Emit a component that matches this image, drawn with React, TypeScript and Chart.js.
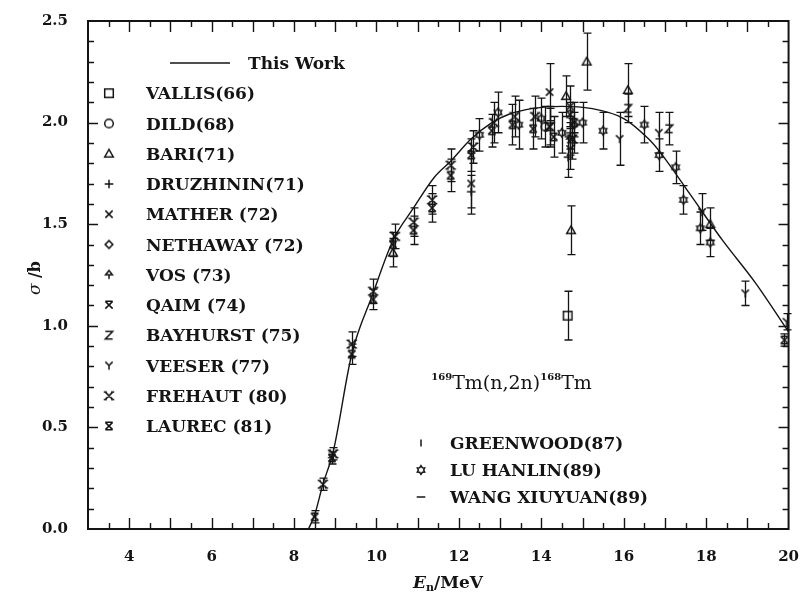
import React, { useEffect, useRef } from 'react';
import { Chart, registerables } from 'chart.js';

Chart.register(...registerables);

const INK = '#141414';
const SERIF = '"DejaVu Serif", "Liberation Serif", serif';

// ---- axis ticks ----
const xTickValues = [4, 6, 8, 10, 12, 14, 16, 18, 20];
const yTickValues = [0, 0.5, 1.0, 1.5, 2.0, 2.5];

// ---- evaluated curve (This Work) ----
const thisWorkE = [8.35, 8.5, 8.7, 8.95, 9.4, 9.9, 10.4, 10.9, 11.4, 11.8, 12.3, 12.8, 13.2, 13.8, 14.5, 15.2, 16.0, 16.6, 16.9, 17.6, 18.4, 19.2, 20.0];
const thisWorkS = [0.0, 0.07, 0.22, 0.38, 0.86, 1.15, 1.42, 1.58, 1.73, 1.81, 1.92, 2.0, 2.04, 2.07, 2.08, 2.07, 2.02, 1.92, 1.85, 1.65, 1.42, 1.21, 0.97];

// ---- measurements: energy (MeV), cross section (b), uncertainty (b) ----
const vallisE = [14.64];
const vallisS = [1.05];
const vallisErr = [0.12];

const dildE = [14.1];
const dildS = [1.98];
const dildErr = [0.1];

const bariE = [10.4, 14.6, 14.72, 15.1, 16.1, 18.1];
const bariS = [1.36, 2.13, 1.47, 2.3, 2.16, 1.5];
const bariErr = [0.07, 0.1, 0.12, 0.14, 0.13, 0.08];

const druzhininE = [12.3, 14.65];
const druzhininS = [1.66, 1.83];
const druzhininErr = [0.08, 0.1];

const matherE = [12.3, 14.2, 14.7];
const matherS = [1.7, 2.15, 2.08];
const matherErr = [0.15, 0.14, 0.1];

const nethawayE = [14.8];
const nethawayS = [1.99];
const nethawayErr = [0.06];

const vosE = [14.7];
const vosS = [1.92];
const vosErr = [0.08];

const qaimE = [14.7];
const qaimS = [2.04];
const qaimErr = [0.06];

const bayhurstE = [14.2, 16.1, 17.1];
const bayhurstS = [1.98, 2.07, 1.97];
const bayhurstErr = [0.09, 0.07, 0.08];

const veeserE = [14.7, 15.9, 16.85, 17.9, 18.95, 19.95];
const veeserS = [1.87, 1.92, 1.95, 1.56, 1.16, 1.02];
const veeserErr = [0.1, 0.13, 0.1, 0.09, 0.06, 0.04];

const frehautE = [8.7, 8.95, 9.4, 9.92, 10.45, 10.9, 11.35, 11.8, 12.35, 12.85, 13.35, 13.85, 14.2, 14.75];
const frehautS = [0.22, 0.37, 0.91, 1.17, 1.44, 1.51, 1.62, 1.79, 1.88, 2.0, 2.03, 2.03, 1.98, 1.92];
const frehautErr = [0.03, 0.03, 0.06, 0.06, 0.06, 0.07, 0.07, 0.08, 0.08, 0.1, 0.1, 0.1, 0.1, 0.1];

const laurecE = [8.5, 8.92, 9.4, 9.92, 10.4, 10.9, 11.35, 11.8, 12.3, 12.8, 13.3, 13.8, 14.3, 14.8, 19.9];
const laurecS = [0.06, 0.35, 0.86, 1.13, 1.4, 1.47, 1.58, 1.74, 1.84, 1.96, 1.99, 1.97, 1.93, 2.0, 0.93];
const laurecErr = [0.03, 0.03, 0.05, 0.05, 0.06, 0.07, 0.07, 0.08, 0.08, 0.08, 0.1, 0.1, 0.1, 0.1, 0.03];

const greenwoodE = [14.8];
const greenwoodS = [1.9];
const greenwoodErr = [0.05];

const luHanlinE = [12.5, 12.95, 13.45, 14.0, 14.5, 15.0, 15.5, 16.5, 16.86, 17.26, 17.45, 17.86, 18.1];
const luHanlinS = [1.94, 2.05, 1.99, 2.02, 1.95, 2.0, 1.96, 1.99, 1.84, 1.78, 1.62, 1.48, 1.41];
const luHanlinErr = [0.08, 0.1, 0.12, 0.1, 0.1, 0.1, 0.09, 0.09, 0.08, 0.08, 0.07, 0.08, 0.07];

const wangE = [14.7];
const wangS = [1.95];
const wangErr = [0.08];

type Series = { label: string; e: number[]; s: number[]; err: number[]; marker: string };

const upperSeries: Series[] = [
  { label: 'VALLIS(66)', e: vallisE, s: vallisS, err: vallisErr, marker: 'square' },
  { label: 'DILD(68)', e: dildE, s: dildS, err: dildErr, marker: 'circle' },
  { label: 'BARI(71)', e: bariE, s: bariS, err: bariErr, marker: 'triangle' },
  { label: 'DRUZHININ(71)', e: druzhininE, s: druzhininS, err: druzhininErr, marker: 'plus' },
  { label: 'MATHER (72)', e: matherE, s: matherS, err: matherErr, marker: 'cross' },
  { label: 'NETHAWAY (72)', e: nethawayE, s: nethawayS, err: nethawayErr, marker: 'diamond' },
  { label: 'VOS (73)', e: vosE, s: vosS, err: vosErr, marker: 'vos' },
  { label: 'QAIM (74)', e: qaimE, s: qaimS, err: qaimErr, marker: 'qaim' },
  { label: 'BAYHURST (75)', e: bayhurstE, s: bayhurstS, err: bayhurstErr, marker: 'z' },
  { label: 'VEESER (77)', e: veeserE, s: veeserS, err: veeserErr, marker: 'y' },
  { label: 'FREHAUT (80)', e: frehautE, s: frehautS, err: frehautErr, marker: 'frehaut' },
  { label: 'LAUREC (81)', e: laurecE, s: laurecS, err: laurecErr, marker: 'laurec' },
];

const lowerSeries: Series[] = [
  { label: 'GREENWOOD(87)', e: greenwoodE, s: greenwoodS, err: greenwoodErr, marker: 'vline' },
  { label: 'LU HANLIN(89)', e: luHanlinE, s: luHanlinS, err: luHanlinErr, marker: 'flower' },
  { label: 'WANG XIUYUAN(89)', e: wangE, s: wangS, err: wangErr, marker: 'dash' },
];

function drawMarker(ctx: CanvasRenderingContext2D, kind: string, x: number, y: number, r: number) {
  const q = r * 0.85;
  ctx.beginPath();
  switch (kind) {
    case 'square':
      ctx.rect(x - r, y - r, 2 * r, 2 * r);
      break;
    case 'circle':
      ctx.arc(x, y, r, 0, Math.PI * 2);
      break;
    case 'triangle':
      ctx.moveTo(x, y - r);
      ctx.lineTo(x + r, y + r * 0.75);
      ctx.lineTo(x - r, y + r * 0.75);
      ctx.closePath();
      break;
    case 'plus':
      ctx.moveTo(x - r, y); ctx.lineTo(x + r, y);
      ctx.moveTo(x, y - r); ctx.lineTo(x, y + r);
      break;
    case 'cross':
      ctx.moveTo(x - q, y - q); ctx.lineTo(x + q, y + q);
      ctx.moveTo(x + q, y - q); ctx.lineTo(x - q, y + q);
      break;
    case 'diamond':
      ctx.moveTo(x, y - r * 0.9); ctx.lineTo(x + r * 0.9, y);
      ctx.lineTo(x, y + r * 0.9); ctx.lineTo(x - r * 0.9, y);
      ctx.closePath();
      break;
    case 'vos':
      ctx.moveTo(x, y - r); ctx.lineTo(x + r * 0.8, y); ctx.lineTo(x - r * 0.8, y); ctx.closePath();
      ctx.moveTo(x, y); ctx.lineTo(x, y + r);
      break;
    case 'qaim':
      ctx.moveTo(x - q, y - q); ctx.lineTo(x + q, y + q);
      ctx.moveTo(x + q, y - q); ctx.lineTo(x - q, y + q);
      ctx.moveTo(x - q, y - q); ctx.lineTo(x + q, y - q);
      break;
    case 'z':
      ctx.moveTo(x - q, y - q); ctx.lineTo(x + q, y - q);
      ctx.lineTo(x - q, y + q); ctx.lineTo(x + q, y + q);
      break;
    case 'y':
      ctx.moveTo(x - q, y - q); ctx.lineTo(x, y);
      ctx.lineTo(x + q, y - q);
      ctx.moveTo(x, y); ctx.lineTo(x, y + r);
      break;
    case 'frehaut':
      ctx.moveTo(x - q, y - q); ctx.lineTo(x + q, y + q);
      ctx.moveTo(x + q, y - q); ctx.lineTo(x - q, y + q);
      for (const [ex, ey] of [[x - q, y - q], [x + q, y - q], [x - q, y + q], [x + q, y + q]]) {
        ctx.moveTo(ex - 1.6, ey); ctx.lineTo(ex + 1.6, ey);
      }
      break;
    case 'laurec':
      ctx.moveTo(x - q, y - q); ctx.lineTo(x + q, y + q);
      ctx.moveTo(x + q, y - q); ctx.lineTo(x - q, y + q);
      ctx.moveTo(x - q, y - q); ctx.lineTo(x + q, y - q);
      ctx.moveTo(x - q, y + q); ctx.lineTo(x + q, y + q);
      break;
    case 'vline':
      ctx.moveTo(x, y - r * 0.8); ctx.lineTo(x, y + r * 0.8);
      break;
    case 'flower': {
      for (let k = 0; k < 12; k++) {
        const a = -Math.PI / 2 + (k * Math.PI) / 6;
        const rr = k % 2 === 0 ? r : r * 0.62;
        const px = x + rr * Math.cos(a);
        const py = y + rr * Math.sin(a);
        if (k === 0) ctx.moveTo(px, py); else ctx.lineTo(px, py);
      }
      ctx.closePath();
      break;
    }
    case 'dash':
      ctx.moveTo(x - r, y); ctx.lineTo(x + r, y);
      break;
  }
  ctx.stroke();
}

function makeMarkerCanvas(kind: string): HTMLCanvasElement {
  const c = document.createElement('canvas');
  c.width = 16;
  c.height = 16;
  const ctx = c.getContext('2d')!;
  ctx.strokeStyle = INK;
  ctx.lineWidth = 1.5;
  drawMarker(ctx, kind, 8, 8, 4.3);
  return c;
}

export default function App() {
  const ref = useRef<HTMLCanvasElement>(null);

  useEffect(() => {
    const canvas = ref.current!;
    const all = [...upperSeries, ...lowerSeries];
    const markerCanvases: Record<string, HTMLCanvasElement> = {};
    all.forEach((s) => { markerCanvases[s.marker] = makeMarkerCanvas(s.marker); });

    const datasets: any[] = [
      {
        type: 'line',
        label: 'This Work',
        data: thisWorkE.map((e, i) => ({ x: e, y: thisWorkS[i] })),
        borderColor: INK,
        borderWidth: 1.4,
        pointRadius: 0,
        showLine: true,
        fill: false,
        cubicInterpolationMode: 'monotone',
      },
      ...all.map((s) => ({
        label: s.label,
        data: s.e.map((e, i) => ({ x: e, y: s.s[i] })),
        errs: s.err,
        pointStyle: markerCanvases[s.marker],
        pointRadius: 6,
        borderColor: INK,
        backgroundColor: 'transparent',
        showLine: false,
      })),
    ];

    const errorBars = {
      id: 'errorBars',
      afterDatasetsDraw(chart: any) {
        const { ctx } = chart;
        const xs = chart.scales.x;
        const ys = chart.scales.y;
        ctx.save();
        ctx.strokeStyle = INK;
        ctx.lineWidth = 1.3;
        chart.data.datasets.forEach((ds: any) => {
          if (!ds.errs) return;
          ds.data.forEach((p: any, j: number) => {
            const d = ds.errs[j];
            if (!d) return;
            const px = Math.round(xs.getPixelForValue(p.x)) + 0.5;
            const yt = ys.getPixelForValue(p.y + d);
            const yb = ys.getPixelForValue(p.y - d);
            ctx.beginPath();
            ctx.moveTo(px, yt); ctx.lineTo(px, yb);
            ctx.moveTo(px - 4, yt); ctx.lineTo(px + 4, yt);
            ctx.moveTo(px - 4, yb); ctx.lineTo(px + 4, yb);
            ctx.stroke();
          });
        });
        ctx.restore();
      },
    };

    const frame = {
      id: 'frame',
      afterDraw(chart: any) {
        const { ctx, chartArea: ca } = chart;
        const xs = chart.scales.x;
        const ys = chart.scales.y;
        ctx.save();
        ctx.strokeStyle = INK;
        ctx.lineWidth = 2;
        ctx.strokeRect(ca.left, ca.top, ca.right - ca.left, ca.bottom - ca.top);
        ctx.lineWidth = 1.4;
        ctx.beginPath();
        for (let k = 7; k < 40; k++) {
          const v = k / 2;
          const major = k % 2 === 0;
          const len = major ? 11 : 6;
          const px = Math.round(xs.getPixelForValue(v)) + 0.5;
          ctx.moveTo(px, ca.bottom); ctx.lineTo(px, ca.bottom - len);
          ctx.moveTo(px, ca.top); ctx.lineTo(px, ca.top + len);
        }
        for (let k = 1; k < 25; k++) {
          const v = k / 10;
          const major = k % 5 === 0;
          const len = major ? 10 : 6;
          const py = Math.round(ys.getPixelForValue(v)) + 0.5;
          ctx.moveTo(ca.left, py); ctx.lineTo(ca.left + len, py);
          ctx.moveTo(ca.right, py); ctx.lineTo(ca.right - len, py);
        }
        ctx.stroke();
        ctx.restore();
      },
    };

    const texts = {
      id: 'texts',
      afterDraw(chart: any) {
        const { ctx, chartArea: ca } = chart;
        const xs = chart.scales.x;
        const ys = chart.scales.y;
        ctx.save();
        ctx.fillStyle = INK;
        ctx.strokeStyle = INK;
        ctx.textBaseline = 'alphabetic';
        ctx.textAlign = 'left';

        // upper legend
        const y0 = ca.top + 42;
        const step = 30.25;
        ctx.lineWidth = 1.4;
        ctx.beginPath();
        ctx.moveTo(ca.left + 82, y0); ctx.lineTo(ca.left + 142, y0);
        ctx.stroke();
        ctx.font = `bold 17px ${SERIF}`;
        ctx.fillText('This Work', ca.left + 160, y0 + 6);
        upperSeries.forEach((s, i) => {
          const y = y0 + (i + 1) * step;
          ctx.drawImage(markerCanvases[s.marker], ca.left + 21 - 8, y - 8);
          ctx.fillText(s.label, ca.left + 58, y + 6);
        });

        // lower legend
        lowerSeries.forEach((s, i) => {
          const y = ca.top + 422 + i * 27;
          ctx.drawImage(markerCanvases[s.marker], 421 - 8, y - 8);
          ctx.fillText(s.label, 450, y + 6);
        });

        let x = 0;
        const part = (t: string, font: string, baseY: number) => {
          ctx.font = font;
          ctx.fillText(t, x, baseY);
          x += ctx.measureText(t).width;
        };

        // reaction label
        x = xs.getPixelForValue(11.33);
        const by = ys.getPixelForValue(0.69);
        part('169', `bold 10px ${SERIF}`, by - 9);
        part('Tm(n,2n)', `19px ${SERIF}`, by);
        part('168', `bold 10px ${SERIF}`, by - 9);
        part('Tm', `19px ${SERIF}`, by);

        // x axis title
        x = 413;
        const ty = 588;
        part('E', `italic bold 17px ${SERIF}`, ty);
        part('n', `bold 11px ${SERIF}`, ty + 3);
        part('/MeV', `bold 17px ${SERIF}`, ty);

        // y axis title
        ctx.translate(40, 278);
        ctx.rotate(-Math.PI / 2);
        ctx.font = `italic 17px ${SERIF}`;
        const w1 = ctx.measureText('σ ').width;
        ctx.font = `bold 16px ${SERIF}`;
        const w2 = ctx.measureText('/b').width;
        const sx = -(w1 + w2) / 2;
        ctx.font = `italic 17px ${SERIF}`;
        ctx.fillText('σ ', sx, 0);
        ctx.font = `bold 16px ${SERIF}`;
        ctx.fillText('/b', sx + w1, 0);
        ctx.restore();
      },
    };

    const chart = new Chart(canvas, {
      type: 'scatter',
      data: { datasets },
      options: {
        animation: false,
        responsive: false,
        devicePixelRatio: 1,
        layout: { padding: { top: 21, right: 8, left: 0, bottom: 0 } },
        plugins: { legend: { display: false }, tooltip: { enabled: false } },
        scales: {
          x: {
            type: 'linear',
            min: 3,
            max: 20,
            afterFit: (s: any) => { s.height = 65; },
            afterBuildTicks: (s: any) => { s.ticks = xTickValues.map((v) => ({ value: v })); },
            grid: { display: false },
            border: { display: false },
            ticks: {
              color: INK,
              padding: 11,
              autoSkip: false,
              maxRotation: 0,
              font: { family: SERIF, size: 15, weight: 'bold' },
              callback: (v: any) => String(v),
            },
          },
          y: {
            type: 'linear',
            min: 0,
            max: 2.5,
            afterFit: (s: any) => { s.width = 88; },
            afterBuildTicks: (s: any) => { s.ticks = yTickValues.map((v) => ({ value: v })); },
            grid: { display: false },
            border: { display: false },
            ticks: {
              color: INK,
              padding: 12,
              font: { family: SERIF, size: 15, weight: 'bold' },
              callback: (v: any) => Number(v).toFixed(1),
            },
          },
        },
      } as any,
      plugins: [errorBars, frame, texts],
    });
    return () => chart.destroy();
  }, []);

  return (
    <div style={{ position: 'absolute', left: 0, top: 0, width: 810, height: 594, background: '#fff' }}>
      <canvas ref={ref} width={810} height={594} style={{ display: 'block' }} />
    </div>
  );
}
